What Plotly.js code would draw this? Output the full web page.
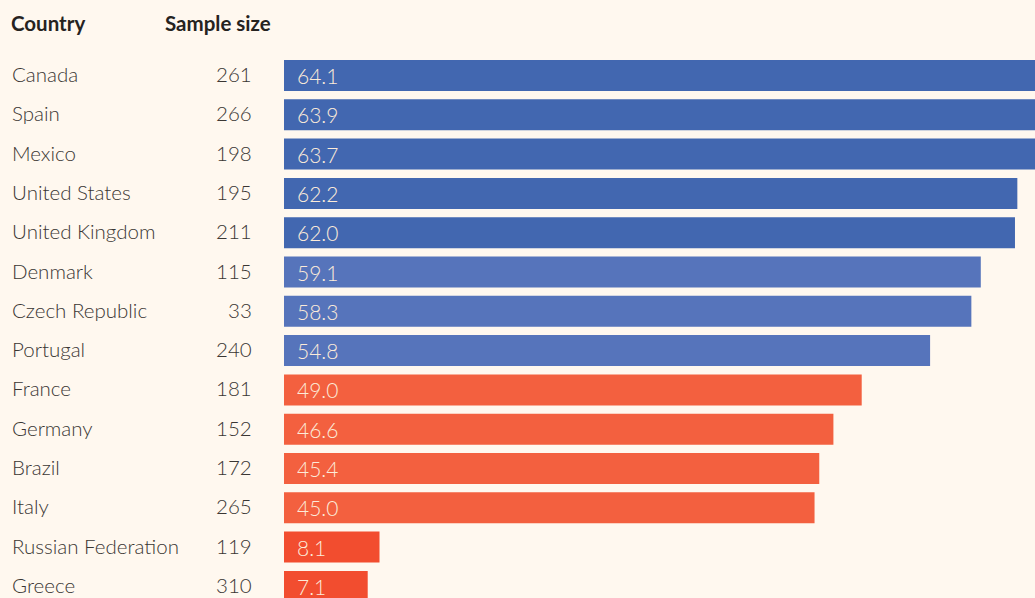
<!DOCTYPE html>
<html>
<head>
<meta charset="utf-8">
<script src="https://cdn.plot.ly/plotly-3.0.1.min.js"></script>
<style>
html,body{margin:0;padding:0;background:#FFF8EF;}
#chart{width:1035px;height:598px;}
</style>
</head>
<body>
<div id="chart"></div>
<script>
const countries = ["Canada","Spain","Mexico","United States","United Kingdom","Denmark","Czech Republic","Portugal","France","Germany","Brazil","Italy","Russian Federation","Greece"];
const sampleSizes = [261,266,198,195,211,115,33,240,181,152,172,265,119,310];
const values = [64.1,63.9,63.7,62.2,62.0,59.1,58.3,54.8,49.0,46.6,45.4,45.0,8.1,7.1];
const headers = ["Country","Sample size"];

function barColor(v){
  if (v >= 60) return "#4267B0";
  if (v >= 50) return "#5674BB";
  if (v >= 20) return "#F3603F";
  return "#F24D2F";
}

const W = 1035, H = 598, L = 284, T = 40;
const plotW = W - L, plotH = H - T;
const px = x => (x - L) / plotW;
const py = y => (H - y) / plotH;

const labelFont = {family: "Lato, 'Open Sans', sans-serif", size: 20.5, color: "#3A3633", weight: 300};
const headFont = {family: "Lato, 'Open Sans', sans-serif", size: 20.5, color: "#26231F", weight: 700};
const valFont = {family: "Lato, 'Open Sans', sans-serif", size: 21, color: "#FCEBD9", weight: 300};

const annotations = [];
countries.forEach((c, i) => {
  annotations.push({xref:"paper", yref:"y", x: px(10), y: c, text: c, showarrow:false, xanchor:"left", yanchor:"middle", yshift: 1.5, font: labelFont});
  annotations.push({xref:"paper", yref:"y", x: px(254), y: c, text: String(sampleSizes[i]), showarrow:false, xanchor:"right", yanchor:"middle", yshift: 1.5, font: labelFont});
  annotations.push({xref:"x", yref:"y", x: 0, y: c, text: values[i].toFixed(1), showarrow:false, xanchor:"left", yanchor:"middle", xshift: 11, font: valFont});
});
annotations.push({xref:"paper", yref:"paper", x: px(9), y: py(23), text: headers[0], showarrow:false, xanchor:"left", yanchor:"middle", font: headFont});
annotations.push({xref:"paper", yref:"paper", x: px(163), y: py(23), text: headers[1], showarrow:false, xanchor:"left", yanchor:"middle", font: headFont});

const rowPx = 39.3;
const topUnits = (75.5 - T) / rowPx;
const totalUnits = plotH / rowPx;

const trace = {
  type: "bar",
  orientation: "h",
  y: countries,
  x: values,
  marker: {color: values.map(barColor)},
  width: 0.79,
  hoverinfo: "skip"
};

const layout = {
  width: W, height: H,
  margin: {l: L, r: 0, t: T, b: 0, pad: 0},
  paper_bgcolor: "#FFF8EF",
  plot_bgcolor: "#FFF8EF",
  showlegend: false,
  xaxis: {range: [0, (W - L) / 11.79], visible: false, fixedrange: true},
  yaxis: {type: "category", range: [-topUnits + totalUnits, -topUnits], visible: false, fixedrange: true},
  annotations: annotations
};

Plotly.newPlot("chart", [trace], layout, {displayModeBar: false, staticPlot: true});
</script>
</body>
</html>
